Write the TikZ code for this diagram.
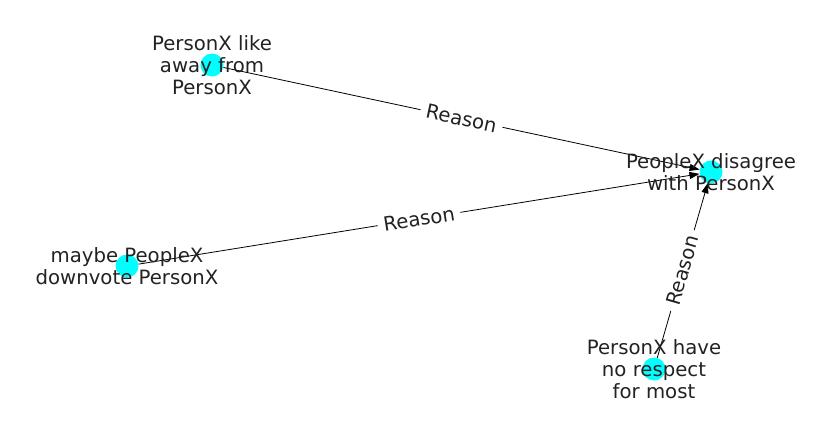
\documentclass[tikz,border=0pt]{standalone}
\usepackage{fontspec}
\setmainfont{DejaVu Sans}
\usetikzlibrary{arrows.meta}
\definecolor{txt}{HTML}{222222}
\definecolor{aqua}{HTML}{00FFFF}
\begin{document}
\begin{tikzpicture}[x=1pt,y=-1pt,
  dot/.style={circle,fill=aqua,draw=none,minimum size=23pt,inner sep=0pt},
  lab/.style={text=txt,align=center,font=\fontsize{19.7}{22}\selectfont,inner sep=0pt},
  edge/.style={draw=black,line width=0.8pt,-{Triangle[length=10pt,width=7pt]}},
  elab/.style={text=txt,fill=white,font=\fontsize{19.7}{22}\selectfont,inner xsep=6pt,inner ysep=2pt,sloped,midway}]
\useasboundingbox (0,0) rectangle (837,434);
\node[dot] (a) at (212,65) {};
\node[dot] (b) at (711,172) {};
\node[dot] (c) at (127,266) {};
\node[dot] (d) at (654,369) {};
\draw[edge] (a) -- (b) node[elab] {Reason};
\draw[edge] (c) -- (b) node[elab] {Reason};
\draw[edge] (d) -- (b) node[elab] {Reason};
\node[lab] (ta) at (a) {PersonX like\\away from\\PersonX};
\node[lab] (tb) at (b) {PeopleX disagree\\with PersonX};
\node[lab] (tc) at (c) {maybe PeopleX\\downvote PersonX};
\node[lab] (td) at (d) {PersonX have\\no respect\\for most};
\end{tikzpicture}
\end{document}
